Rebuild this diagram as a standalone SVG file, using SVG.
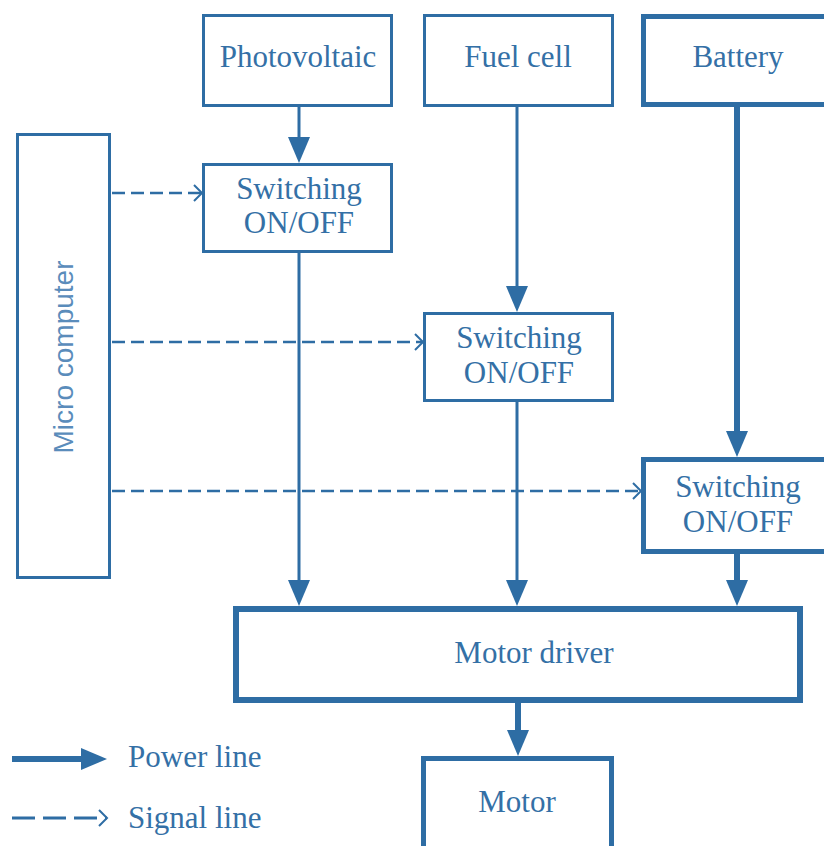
<svg xmlns="http://www.w3.org/2000/svg" width="824" height="846" viewBox="0 0 824 846">
<style>
.box{fill:#fff;stroke:#2E6DA4;stroke-width:3}
.thick{stroke-width:5}
.lbl{font-family:'Liberation Serif','Times New Roman',serif;font-size:31px;fill:#3470a6;text-anchor:middle}
.leg{font-family:'Liberation Serif','Times New Roman',serif;font-size:31px;fill:#3470a6}
.pw{stroke:#2E6DA4;stroke-width:3;fill:none;marker-end:url(#pa)}
.pw6{stroke-width:6}
.sg{stroke:#2E6DA4;stroke-width:2.5;fill:none;stroke-dasharray:13 6;marker-end:url(#sa)}
</style>
<defs>
<marker id="pa" markerUnits="userSpaceOnUse" viewBox="0 0 26 22" markerWidth="26" markerHeight="22" refX="16" refY="11" orient="auto">
<path d="M0,0 L26,11 L0,22 Z" fill="#2E6DA4"/>
</marker>
<marker id="sa" markerUnits="userSpaceOnUse" viewBox="0 0 12 20" markerWidth="12" markerHeight="20" refX="10" refY="10" orient="auto">
<path d="M2,2 L10,10 L2,18" fill="none" stroke="#2E6DA4" stroke-width="2"/>
</marker>
</defs>
<rect width="824" height="846" fill="#fff"/>
<g id="connectors">
<line class="pw" x1="299" y1="107" x2="299" y2="153"/>
<line class="pw" x1="299" y1="253" x2="299" y2="596"/>
<line class="pw" x1="517" y1="107" x2="517" y2="302"/>
<line class="pw" x1="517" y1="402" x2="517" y2="596"/>
<line class="pw pw6" x1="737" y1="107" x2="737" y2="447"/>
<line class="pw pw6" x1="737" y1="554" x2="737" y2="596"/>
<line class="pw pw6" x1="518" y1="703" x2="518" y2="746"/>
<line class="sg" x1="112" y1="193" x2="202" y2="193"/>
<line class="sg" x1="112" y1="342" x2="423" y2="342"/>
<line class="sg" x1="112" y1="491" x2="641" y2="491"/>
</g>
<g id="photovoltaic"><rect class="box" x="203.5" y="15.5" width="188" height="90"/><text class="lbl" x="298" y="67">Photovoltaic</text></g>
<g id="fuelcell"><rect class="box" x="424.5" y="15.5" width="188" height="90"/><text class="lbl" x="518" y="67">Fuel cell</text></g>
<g id="battery"><rect class="box thick" x="643.5" y="16.5" width="200" height="88"/><text class="lbl" x="738" y="67">Battery</text></g>
<g id="switch1"><rect class="box" x="203.5" y="164.5" width="188" height="87"/><text class="lbl" x="299" y="199">Switching</text><text class="lbl" x="299" y="233">ON/OFF</text></g>
<g id="switch2"><rect class="box" x="424.5" y="313.5" width="188" height="87"/><text class="lbl" x="519" y="348">Switching</text><text class="lbl" x="519" y="383">ON/OFF</text></g>
<g id="switch3"><rect class="box thick" x="643.5" y="459.5" width="200" height="92"/><text class="lbl" x="738" y="497">Switching</text><text class="lbl" x="738" y="532">ON/OFF</text></g>
<g id="microcomputer"><rect class="box" x="17.5" y="134.5" width="92" height="443"/><text x="0" y="0" transform="translate(73,357) rotate(-90)" font-family="'Liberation Sans',Arial,sans-serif" font-size="28" fill="#5a8cbb" text-anchor="middle">Micro computer</text></g>
<g id="motordriver"><rect class="box" style="stroke-width:6" x="236" y="609" width="564" height="91"/><text class="lbl" x="534" y="663">Motor driver</text></g>
<g id="motor"><rect class="box thick" x="423.5" y="758.5" width="188" height="120"/><text class="lbl" x="517" y="812">Motor</text></g>
<g id="legend">
<line class="pw pw6" x1="12" y1="759" x2="97" y2="759"/>
<text class="leg" x="128" y="767">Power line</text>
<line class="sg" x1="12" y1="818" x2="107" y2="818" style="stroke-dasharray:23 8;stroke-width:3"/>
<text class="leg" x="128" y="828">Signal line</text>
</g>
</svg>
